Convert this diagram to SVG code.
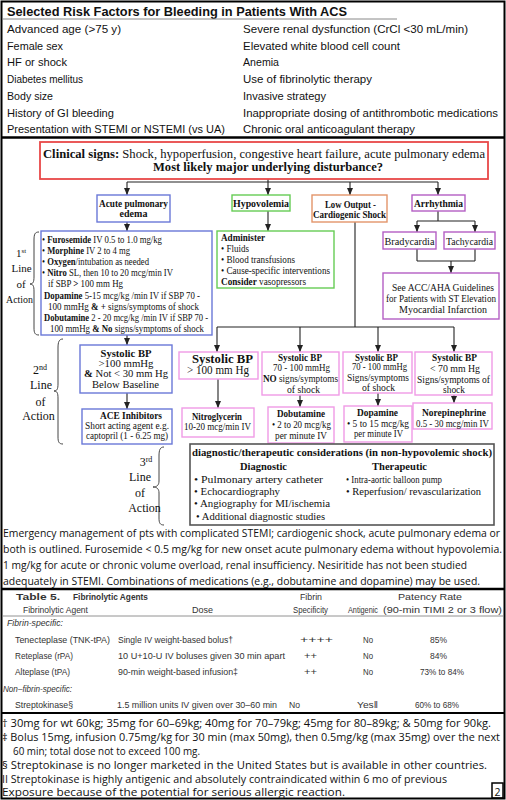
<svg xmlns="http://www.w3.org/2000/svg" width="506" height="800" viewBox="0 0 506 800">
<defs>
<marker id="ah" markerWidth="7" markerHeight="6" refX="7" refY="3" orient="auto" markerUnits="userSpaceOnUse"><path d="M0,0 L7,3 L0,6 z" fill="#222"/></marker>
</defs>
<style>
.sans{font-family:"Liberation Sans",Arial,Helvetica,sans-serif}
.rf{font-size:11.4px;fill:#111}
.ser{font-family:"Liberation Serif","Times New Roman",Times,serif;fill:#111}
.b{font-weight:bold}
.cal{font-family:"Open Sans","Noto Sans",sans-serif;font-size:10.5px;fill:#111}
.t5{font-family:"Liberation Sans",Arial,sans-serif;font-size:9.8px;fill:#333}
.it{font-style:italic}
.mid{text-anchor:middle}
.box{fill:#fff;stroke-width:1.4}
.blue{stroke:#6a78d8}
.green{stroke:#66cc55}
.orange{stroke:#e3956a}
.purple{stroke:#b45ec4}
.pink{stroke:#f09be6}
.red{stroke:#e84848;stroke-width:1.8}
.dark{stroke:#555;stroke-width:1.6}
.con{fill:none;stroke:#222;stroke-width:1.1}
.arr{marker-end:url(#ah)}
.brace{fill:none;stroke:#444;stroke-width:1}
</style>
<rect x="0" y="0" width="506" height="800" fill="#fff"/>

<!-- frame and section rules -->
<g id="frame">
<rect x="1.5" y="1.5" width="503" height="797" fill="none" stroke="#000" stroke-width="2"/>
<line x1="1" y1="137.5" x2="505" y2="137.5" stroke="#000" stroke-width="2.5"/>
<line x1="1" y1="589" x2="505" y2="589" stroke="#000" stroke-width="2.5"/>
<line x1="3" y1="616" x2="503" y2="616" stroke="#777" stroke-width="0.8"/>
<line x1="1" y1="713" x2="505" y2="713" stroke="#000" stroke-width="2"/>
</g>

<!-- risk factors table -->
<g id="risk-factors">
<text class="sans b" x="7" y="15.5" font-size="12.5" fill="#111" textLength="340" lengthAdjust="spacingAndGlyphs">Selected Risk Factors for Bleeding in Patients With ACS</text>
<line x1="3" y1="19" x2="397" y2="19" stroke="#888" stroke-width="1"/>
<text class="sans rf" x="7" y="33" textLength="114" lengthAdjust="spacingAndGlyphs">Advanced age (&gt;75 y)</text>
<text class="sans rf" x="7" y="50" textLength="56" lengthAdjust="spacingAndGlyphs">Female sex</text>
<text class="sans rf" x="7" y="66" textLength="60" lengthAdjust="spacingAndGlyphs">HF or shock</text>
<text class="sans rf" x="7" y="83" textLength="76" lengthAdjust="spacingAndGlyphs">Diabetes mellitus</text>
<text class="sans rf" x="7" y="100" textLength="46" lengthAdjust="spacingAndGlyphs">Body size</text>
<text class="sans rf" x="7" y="117" textLength="107" lengthAdjust="spacingAndGlyphs">History of GI bleeding</text>
<text class="sans rf" x="7" y="133" textLength="218" lengthAdjust="spacingAndGlyphs">Presentation with STEMI or NSTEMI (vs UA)</text>
<text class="sans rf" x="243" y="33" textLength="225" lengthAdjust="spacingAndGlyphs">Severe renal dysfunction (CrCl &lt;30 mL/min)</text>
<text class="sans rf" x="243" y="50" textLength="157" lengthAdjust="spacingAndGlyphs">Elevated white blood cell count</text>
<text class="sans rf" x="243" y="66" textLength="36" lengthAdjust="spacingAndGlyphs">Anemia</text>
<text class="sans rf" x="243" y="83" textLength="129" lengthAdjust="spacingAndGlyphs">Use of fibrinolytic therapy</text>
<text class="sans rf" x="243" y="100" textLength="83" lengthAdjust="spacingAndGlyphs">Invasive strategy</text>
<text class="sans rf" x="243" y="117" textLength="255" lengthAdjust="spacingAndGlyphs">Inappropriate dosing of antithrombotic medications</text>
<text class="sans rf" x="243" y="133" textLength="172" lengthAdjust="spacingAndGlyphs">Chronic oral anticoagulant therapy</text>
</g>

<!-- connectors -->
<g id="connectors">
<path class="con" d="M268,179 V182 M127,182 H438"/>
<path class="con arr" d="M127,182 V195"/>
<path class="con arr" d="M268,182 V195"/>
<path class="con arr" d="M350,182 V195"/>
<path class="con arr" d="M438,182 V195"/>
<path class="con arr" d="M127,222 V231"/>
<path class="con arr" d="M268,211 V231"/>
<path class="con" d="M355,222 V327 M217,327 H454"/>
<path class="con arr" d="M217,327 V352"/>
<path class="con arr" d="M300,327 V352"/>
<path class="con arr" d="M378,327 V352"/>
<path class="con arr" d="M454,327 V352"/>
<path class="con" d="M438,211 V221 M417,221 H475"/>
<path class="con arr" d="M417,221 V232"/>
<path class="con arr" d="M475,221 V232"/>
<path class="con" d="M417,249 V261 M475,249 V261 M417,261 H475"/>
<path class="con arr" d="M451,261 V273"/>
<path class="con arr" d="M127,335 V345"/>
<path class="con arr" d="M127,393 V409"/>
<path class="con arr" d="M218,379 V408"/>
<path class="con arr" d="M300,395 V407"/>
<path class="con arr" d="M378,393 V406"/>
<path class="con arr" d="M454,395 V403"/>
</g>

<g id="clinical-signs">
<rect class="box red" x="40" y="142" width="448" height="37"/>
<text class="ser" x="43" y="158" font-size="12.5" textLength="442" lengthAdjust="spacingAndGlyphs"><tspan class="b">Clinical signs:</tspan> Shock, hypoperfusion, congestive heart failure, acute  pulmonary edema</text>
<text class="ser b mid" x="268" y="170.5" font-size="12.5" textLength="230" lengthAdjust="spacingAndGlyphs">Most likely major underlying disturbance?</text>
</g>

<g id="acute-pulmonary-edema">
<rect class="box blue" x="97" y="195" width="73" height="27"/>
<text class="ser b mid" x="133.5" y="206.5" font-size="10" textLength="69" lengthAdjust="spacingAndGlyphs">Acute pulmonary</text>
<text class="ser b mid" x="133.5" y="216.5" font-size="10">edema</text>
</g>

<g id="hypovolemia">
<rect class="box green" x="232" y="195" width="58" height="16"/>
<text class="ser b mid" x="261" y="206.5" font-size="10.5" textLength="56" lengthAdjust="spacingAndGlyphs">Hypovolemia</text>
</g>

<g id="low-output">
<rect class="box orange" x="312" y="195" width="75" height="27"/>
<text class="ser b mid" x="350.5" y="207.5" font-size="10" textLength="51" lengthAdjust="spacingAndGlyphs">Low Output -</text>
<text class="ser b mid" x="349.5" y="217.5" font-size="10" textLength="73" lengthAdjust="spacingAndGlyphs">Cardiogenic Shock</text>
</g>

<g id="arrhythmia">
<rect class="box purple" x="412" y="195" width="53" height="16"/>
<text class="ser b mid" x="438.5" y="206.5" font-size="10.5" textLength="49" lengthAdjust="spacingAndGlyphs">Arrhythmia</text>
</g>

<g id="bradycardia">
<rect class="box purple" x="383" y="232" width="53" height="17"/>
<text class="ser mid" x="409.5" y="244.5" font-size="10.5" textLength="50" lengthAdjust="spacingAndGlyphs">Bradycardia</text>
</g>

<g id="tachycardia">
<rect class="box purple" x="444" y="232" width="51" height="17"/>
<text class="ser mid" x="469.5" y="244.5" font-size="10.5" textLength="47" lengthAdjust="spacingAndGlyphs">Tachycardia</text>
</g>

<g id="see-guidelines">
<rect class="box purple" x="383" y="273" width="116" height="46"/>
<text class="ser mid" x="443" y="290.5" font-size="10.5" textLength="102" lengthAdjust="spacingAndGlyphs">See  ACC/AHA Guidelines</text>
<text class="ser mid" x="441" y="301.5" font-size="10.5" textLength="110" lengthAdjust="spacingAndGlyphs">for Patients with ST Elevation</text>
<text class="ser mid" x="443" y="312.5" font-size="10.5" textLength="88" lengthAdjust="spacingAndGlyphs">Myocardial Infarction</text>
</g>

<g id="first-line">
<rect class="box blue" x="41" y="231" width="171" height="104"/>
<text class="ser" x="42" y="242.5" font-size="9.6" textLength="120" lengthAdjust="spacingAndGlyphs">• <tspan class="b">Furosemide</tspan> IV 0.5 to 1.0 mg/kg</text>
<text class="ser" x="42" y="253.5" font-size="9.6" textLength="88" lengthAdjust="spacingAndGlyphs">• <tspan class="b">Morphine</tspan> IV 2 to 4 mg</text>
<text class="ser" x="42" y="264.5" font-size="9.6" textLength="107" lengthAdjust="spacingAndGlyphs">• <tspan class="b">Oxygen</tspan>/intubation as needed</text>
<text class="ser" x="42" y="275.5" font-size="9.6" textLength="131" lengthAdjust="spacingAndGlyphs">• <tspan class="b">Nitro</tspan> SL, then 10 to 20 mcg/min IV</text>
<text class="ser" x="48" y="286.5" font-size="9.6" textLength="75" lengthAdjust="spacingAndGlyphs">if SBP <tspan class="b">&gt;</tspan> 100 mm Hg</text>
<text class="ser" x="44" y="298.5" font-size="9.6" textLength="156" lengthAdjust="spacingAndGlyphs"><tspan class="b">Dopamine</tspan> 5-15 mcg/kg /min IV if SBP 70 -</text>
<text class="ser" x="48" y="309.5" font-size="9.6" textLength="151" lengthAdjust="spacingAndGlyphs">100 mmHg <tspan class="b">&amp; +</tspan>  signs/symptoms of shock</text>
<text class="ser" x="44" y="320.5" font-size="9.6" textLength="164" lengthAdjust="spacingAndGlyphs"><tspan class="b">Dobutamine</tspan> 2 - 20 mcg/kg /min IV if SBP 70 -</text>
<text class="ser" x="50" y="331.5" font-size="9.6" textLength="154" lengthAdjust="spacingAndGlyphs">100 mmHg <tspan class="b">&amp; No</tspan> signs/symptoms of shock</text>
</g>

<g id="administer">
<rect class="box green" x="217" y="231" width="117" height="57"/>
<text class="ser b" x="221" y="240.8" font-size="9.8" textLength="44" lengthAdjust="spacingAndGlyphs">Administer</text>
<text class="ser" x="221" y="251.5" font-size="9.8" textLength="28" lengthAdjust="spacingAndGlyphs">• Fluids</text>
<text class="ser" x="221" y="262.5" font-size="9.8" textLength="74" lengthAdjust="spacingAndGlyphs">• Blood transfusions</text>
<text class="ser" x="221" y="273.5" font-size="9.8" textLength="109" lengthAdjust="spacingAndGlyphs">• Cause-specific interventions</text>
<text class="ser" x="221" y="284.5" font-size="9.8" textLength="85" lengthAdjust="spacingAndGlyphs"><tspan class="b">Consider</tspan> vasopressors</text>
</g>

<g id="line-labels">
<path class="brace" d="M39,232 C35,232 34,234 34,240 L34,277 C34,282 33,284 30,284 C33,284 34,286 34,291 L34,328 C34,333 35,335 39,335"/>
<text class="ser mid" x="21" y="256.5" font-size="11">1<tspan font-size="7" dy="-4">st</tspan></text>
<text class="ser mid" x="21.5" y="271.5" font-size="11">Line</text>
<text class="ser mid" x="21" y="287.5" font-size="11">of</text>
<text class="ser mid" x="19.5" y="302.5" font-size="11" textLength="27" lengthAdjust="spacingAndGlyphs">Action</text>

<path class="brace" d="M63,339 C59,339 58,342 58,348 L58,384 C58,389 57,391 54,391 C57,391 58,393 58,398 L58,437 C58,442 59,444 63,444"/>
<text class="ser mid" x="40" y="374" font-size="12">2<tspan font-size="8" dy="-4">nd</tspan></text>
<text class="ser mid" x="41" y="389" font-size="12">Line</text>
<text class="ser mid" x="40.5" y="406" font-size="12">of</text>
<text class="ser mid" x="38.5" y="420" font-size="12">Action</text>

<path class="brace" d="M164,447 C160,447 159,450 159,456 L159,481 C159,485 157,487 153,487 C157,487 159,489 159,493 L159,518 C159,523 160,525 164,525"/>
<text class="ser mid" x="146" y="466" font-size="12">3<tspan font-size="8" dy="-4">rd</tspan></text>
<text class="ser mid" x="140" y="481" font-size="12">Line</text>
<text class="ser mid" x="140" y="497" font-size="12">of</text>
<text class="ser mid" x="144.5" y="512" font-size="12">Action</text>
</g>

<g id="sbp-above-baseline">
<rect class="box blue" x="80" y="345" width="92" height="48"/>
<text class="ser b mid" x="126" y="356.8" font-size="10.8" textLength="51" lengthAdjust="spacingAndGlyphs">Systolic BP</text>
<text class="ser mid" x="126" y="366.8" font-size="10.8" textLength="55" lengthAdjust="spacingAndGlyphs">&gt;100 mmHg</text>
<text class="ser mid" x="126" y="376.8" font-size="10.8" textLength="84" lengthAdjust="spacingAndGlyphs"><tspan class="b">&amp;</tspan> Not &lt; 30 mm Hg</text>
<text class="ser mid" x="125.5" y="387.8" font-size="10.8" textLength="67" lengthAdjust="spacingAndGlyphs">Below Baseline</text>
</g>

<g id="sbp-gt100">
<rect class="box pink" x="179" y="352" width="79" height="27"/>
<text class="ser b mid" x="222.5" y="362.8" font-size="11.5" textLength="61" lengthAdjust="spacingAndGlyphs">Systolic BP</text>
<text class="ser mid" x="218" y="373.8" font-size="11.5" textLength="62" lengthAdjust="spacingAndGlyphs">&gt; 100 mm Hg</text>
</g>

<g id="sbp-70-100-no-shock">
<rect class="box pink" x="262" y="352" width="77" height="43"/>
<text class="ser b mid" x="300" y="360.5" font-size="9.8" textLength="44" lengthAdjust="spacingAndGlyphs">Systolic BP</text>
<text class="ser mid" x="301.5" y="370.5" font-size="9.8" textLength="57" lengthAdjust="spacingAndGlyphs">70 - 100 mmHg</text>
<text class="ser mid" x="300.5" y="381.5" font-size="9.8" textLength="75" lengthAdjust="spacingAndGlyphs"><tspan class="b">NO</tspan> signs/symptoms</text>
<text class="ser mid" x="303.5" y="393" font-size="9.8" textLength="33" lengthAdjust="spacingAndGlyphs">of shock</text>
</g>

<g id="sbp-70-100-shock">
<rect class="box pink" x="343" y="352" width="69" height="41"/>
<text class="ser b mid" x="376.5" y="360.5" font-size="9.8" textLength="43" lengthAdjust="spacingAndGlyphs">Systolic BP</text>
<text class="ser mid" x="379.5" y="369.5" font-size="9.8" textLength="55" lengthAdjust="spacingAndGlyphs">70 - 100 mmHg</text>
<text class="ser mid" x="378" y="380.5" font-size="9.8" textLength="62" lengthAdjust="spacingAndGlyphs">Signs/symptoms</text>
<text class="ser mid" x="378.5" y="391" font-size="9.8" textLength="33" lengthAdjust="spacingAndGlyphs">of shock</text>
</g>

<g id="sbp-lt70">
<rect class="box pink" x="415" y="352" width="77" height="43"/>
<text class="ser b mid" x="454.5" y="360.5" font-size="9.8" textLength="45" lengthAdjust="spacingAndGlyphs">Systolic BP</text>
<text class="ser mid" x="455" y="371.5" font-size="9.8" textLength="50" lengthAdjust="spacingAndGlyphs">&lt; 70 mm Hg</text>
<text class="ser mid" x="453.5" y="382.5" font-size="9.8" textLength="73" lengthAdjust="spacingAndGlyphs">Signs/symptoms of</text>
<text class="ser mid" x="454" y="393" font-size="9.8" textLength="22" lengthAdjust="spacingAndGlyphs">shock</text>
</g>

<g id="ace-inhibitors">
<rect class="box blue" x="82" y="409" width="90" height="35"/>
<text class="ser b mid" x="131" y="418.5" font-size="9.8" textLength="62" lengthAdjust="spacingAndGlyphs">ACE Inhibitors</text>
<text class="ser mid" x="127" y="428.5" font-size="9.8" textLength="84" lengthAdjust="spacingAndGlyphs">Short acting agent e.g.</text>
<text class="ser mid" x="127" y="438.8" font-size="9.8" textLength="82" lengthAdjust="spacingAndGlyphs">captopril (1 - 6.25 mg)</text>
</g>

<g id="nitroglycerin">
<rect class="box pink" x="182" y="408" width="72" height="29"/>
<text class="ser b mid" x="217" y="419.5" font-size="10" textLength="50" lengthAdjust="spacingAndGlyphs">Nitroglycerin</text>
<text class="ser mid" x="217.5" y="429.5" font-size="10" textLength="67" lengthAdjust="spacingAndGlyphs">10-20 mcg/min IV</text>
</g>

<g id="dobutamine">
<rect class="box pink" x="268" y="407" width="66" height="36"/>
<text class="ser b mid" x="301" y="416.5" font-size="10" textLength="48" lengthAdjust="spacingAndGlyphs">Dobutamine</text>
<text class="ser mid" x="301.5" y="427.5" font-size="10" textLength="59" lengthAdjust="spacingAndGlyphs">• 2 to 20 mcg/kg</text>
<text class="ser mid" x="301" y="438.5" font-size="10" textLength="52" lengthAdjust="spacingAndGlyphs">per minute IV</text>
</g>

<g id="dopamine">
<rect class="box pink" x="344" y="406" width="68" height="36"/>
<text class="ser b mid" x="377.5" y="415.5" font-size="10" textLength="41" lengthAdjust="spacingAndGlyphs">Dopamine</text>
<text class="ser mid" x="378" y="426.5" font-size="10" textLength="62" lengthAdjust="spacingAndGlyphs">• 5 to 15 mcg/kg</text>
<text class="ser mid" x="378.5" y="436.5" font-size="10" textLength="49" lengthAdjust="spacingAndGlyphs">per minute IV</text>
</g>

<g id="norepinephrine">
<rect class="box pink" x="413" y="403" width="79" height="26"/>
<text class="ser b mid" x="454" y="415.5" font-size="10" textLength="64" lengthAdjust="spacingAndGlyphs">Norepinephrine</text>
<text class="ser mid" x="452.5" y="426.5" font-size="10" textLength="73" lengthAdjust="spacingAndGlyphs">0.5 - 30 mcg/min IV</text>
</g>

<g id="diagnostic-therapeutic">
<rect class="box dark" x="190" y="444" width="304" height="81"/>
<text class="ser b" x="192" y="456" font-size="11" textLength="300" lengthAdjust="spacingAndGlyphs">diagnostic/therapeutic considerations (in non-hypovolemic shock)</text>
<text class="ser b mid" x="263.5" y="470" font-size="11" textLength="47" lengthAdjust="spacingAndGlyphs">Diagnostic</text>
<text class="ser b mid" x="399.5" y="470" font-size="11" textLength="55" lengthAdjust="spacingAndGlyphs">Therapeutic</text>
<text class="ser" x="194" y="483" font-size="11" textLength="129" lengthAdjust="spacingAndGlyphs">• Pulmonary artery catheter</text>
<text class="ser" x="194" y="495" font-size="11" textLength="86" lengthAdjust="spacingAndGlyphs">• Echocardiography</text>
<text class="ser" x="194" y="507" font-size="11" textLength="136" lengthAdjust="spacingAndGlyphs">• Angiography for MI/ischemia</text>
<text class="ser" x="196" y="519.5" font-size="11" textLength="129" lengthAdjust="spacingAndGlyphs">• Additional diagnostic studies</text>
<text class="ser" x="346" y="483" font-size="11" textLength="96" lengthAdjust="spacingAndGlyphs">• Intra-aortic balloon pump</text>
<text class="ser" x="346" y="495" font-size="11" textLength="135" lengthAdjust="spacingAndGlyphs">• Reperfusion/ revascularization</text>
</g>

<g id="caption">
<text class="cal" x="3" y="537" textLength="497" lengthAdjust="spacingAndGlyphs">Emergency management of pts with complicated STEMI; cardiogenic shock, acute pulmonary edema or</text>
<text class="cal" x="3" y="553" textLength="499" lengthAdjust="spacingAndGlyphs">both is outlined. Furosemide &lt; 0.5 mg/kg for new onset acute pulmonary edema without hypovolemia.</text>
<text class="cal" x="3" y="569" textLength="464" lengthAdjust="spacingAndGlyphs">1 mg/kg for acute or chronic volume overload, renal insufficiency. Nesiritide has not been studied</text>
<text class="cal" x="3" y="585" textLength="477" lengthAdjust="spacingAndGlyphs">adequately in STEMI. Combinations of medications (e.g., dobutamine and dopamine) may be used.</text>
</g>

<g id="table5">
<text class="t5 b" x="16" y="600" font-size="10.5" textLength="44" lengthAdjust="spacingAndGlyphs">Table 5.</text>
<text class="t5 b" x="73" y="600" font-size="10.5" textLength="75" lengthAdjust="spacingAndGlyphs">Fibrinolytic Agents</text>
<text class="t5 mid" x="311" y="599.5" textLength="22" lengthAdjust="spacingAndGlyphs">Fibrin</text>
<text class="t5 mid" x="430" y="599.5" textLength="64" lengthAdjust="spacingAndGlyphs">Patency Rate</text>
<text class="t5" x="23" y="612.5" textLength="65" lengthAdjust="spacingAndGlyphs">Fibrinolytic Agent</text>
<text class="t5" x="192" y="612.5" textLength="21" lengthAdjust="spacingAndGlyphs">Dose</text>
<text class="t5" x="293" y="612.5" textLength="35" lengthAdjust="spacingAndGlyphs">Specificity</text>
<text class="t5" x="348" y="612.5" textLength="30" lengthAdjust="spacingAndGlyphs">Antigenic</text>
<text class="t5" x="383" y="612.5" textLength="119" lengthAdjust="spacingAndGlyphs">(90-min TIMI 2 or 3 flow)</text>

<text class="t5 it" x="7" y="625.5" textLength="56" lengthAdjust="spacingAndGlyphs">Fibrin-specific:</text>

<text class="t5" x="15" y="642.5" textLength="95" lengthAdjust="spacingAndGlyphs">Tenecteplase (TNK-tPA)</text>
<text class="t5" x="118" y="642.5" textLength="115" lengthAdjust="spacingAndGlyphs">Single IV weight-based bolus†</text>
<text class="t5" x="300" y="642.5" textLength="33" lengthAdjust="spacingAndGlyphs">++++</text>
<text class="t5" x="363" y="642.5" textLength="10" lengthAdjust="spacingAndGlyphs">No</text>
<text class="t5" x="430" y="642.5" textLength="17" lengthAdjust="spacingAndGlyphs">85%</text>

<text class="t5" x="15" y="658.5" textLength="58" lengthAdjust="spacingAndGlyphs">Reteplase (rPA)</text>
<text class="t5" x="118" y="658.5" textLength="167" lengthAdjust="spacingAndGlyphs">10 U+10-U IV boluses given 30 min apart</text>
<text class="t5" x="304" y="658.5" textLength="13" lengthAdjust="spacingAndGlyphs">++</text>
<text class="t5" x="363" y="658.5" textLength="10" lengthAdjust="spacingAndGlyphs">No</text>
<text class="t5" x="430" y="658.5" textLength="17" lengthAdjust="spacingAndGlyphs">84%</text>

<text class="t5" x="15" y="674.5" textLength="55" lengthAdjust="spacingAndGlyphs">Alteplase (tPA)</text>
<text class="t5" x="118" y="674.5" textLength="120" lengthAdjust="spacingAndGlyphs">90-min weight-based infusion‡</text>
<text class="t5" x="304" y="674.5" textLength="13" lengthAdjust="spacingAndGlyphs">++</text>
<text class="t5" x="363" y="674.5" textLength="10" lengthAdjust="spacingAndGlyphs">No</text>
<text class="t5" x="420" y="674.5" textLength="44" lengthAdjust="spacingAndGlyphs">73% to 84%</text>

<text class="t5 it" x="3" y="691.5" textLength="69" lengthAdjust="spacingAndGlyphs">Non–fibrin-specific:</text>

<text class="t5" x="15" y="707.5" textLength="58" lengthAdjust="spacingAndGlyphs">Streptokinase§</text>
<text class="t5" x="117" y="707.5" textLength="160" lengthAdjust="spacingAndGlyphs">1.5 million units IV given over 30–60 min</text>
<text class="t5" x="289" y="707.5" textLength="11" lengthAdjust="spacingAndGlyphs">No</text>
<text class="t5" x="357" y="707.5" textLength="21" lengthAdjust="spacingAndGlyphs">Yes‖</text>
<text class="t5" x="415" y="707.5" textLength="44" lengthAdjust="spacingAndGlyphs">60% to 68%</text>
</g>

<g id="footnotes">
<text class="cal" x="2" y="727" textLength="489" lengthAdjust="spacingAndGlyphs">† 30mg for wt 60kg; 35mg for 60–69kg; 40mg for 70–79kg; 45mg for 80–89kg; &amp; 50mg for 90kg.</text>
<text class="cal" x="2" y="741" textLength="498" lengthAdjust="spacingAndGlyphs">‡ Bolus 15mg, infusion 0.75mg/kg for 30 min (max 50mg), then 0.5mg/kg (max 35mg) over the next</text>
<text class="cal" x="13" y="754.5" textLength="187" lengthAdjust="spacingAndGlyphs">60 min; total dose not to exceed 100 mg.</text>
<text class="cal" x="2" y="769" textLength="485" lengthAdjust="spacingAndGlyphs">§ Streptokinase is no longer marketed in the United States but is available in other countries.</text>
<text class="cal" x="2" y="782.5" textLength="445" lengthAdjust="spacingAndGlyphs">II Streptokinase is highly antigenic and absolutely contraindicated within 6 mo of previous</text>
<text class="cal" x="2" y="796" textLength="343" lengthAdjust="spacingAndGlyphs">Exposure because of the potential for serious allergic reaction.</text>
<rect x="492" y="783" width="11" height="15" fill="none" stroke="#000" stroke-width="1.5"/>
<text class="cal mid" x="497.5" y="795.5" font-size="11.5">2</text>
</g>
</svg>
